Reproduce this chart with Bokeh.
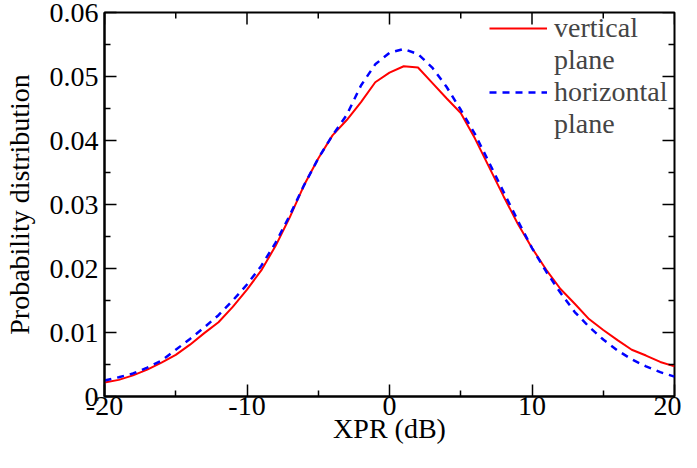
import math
from bokeh.plotting import figure
from bokeh.models import FixedTicker, Range1d, Legend, LegendItem, ColumnDataSource
from bokeh.embed import file_html
from bokeh.resources import INLINE

# ---- data ----
xpr_db = list(range(-20, 21))
vertical_plane = [0.0022, 0.0026, 0.0033, 0.0042, 0.0053, 0.0065, 0.0081, 0.0099,
                  0.0116, 0.0140, 0.0167, 0.0197, 0.0235, 0.0280, 0.0330, 0.0372,
                  0.0408, 0.0432, 0.0460, 0.0491, 0.0506, 0.0516, 0.0514, 0.0490,
                  0.0466, 0.0443, 0.0403, 0.0358, 0.0313, 0.0270, 0.0232, 0.0198,
                  0.0168, 0.0145, 0.0121, 0.0104, 0.0088, 0.0073, 0.0064, 0.0054,
                  0.0047]
horizontal_plane = [0.0025, 0.0030, 0.0036, 0.0045, 0.0056, 0.0073, 0.0090, 0.0108,
                    0.0127, 0.0150, 0.0175, 0.0204, 0.0240, 0.0283, 0.0330, 0.0372,
                    0.0408, 0.0440, 0.0486, 0.0519, 0.0537, 0.0543, 0.0535, 0.0514,
                    0.0484, 0.0448, 0.0410, 0.0365, 0.0320, 0.0275, 0.0232, 0.0195,
                    0.0162, 0.0132, 0.0109, 0.0089, 0.0072, 0.0058, 0.0047, 0.0038,
                    0.0031]
legend_lines = [["vertical", "plane"], ["horizontal", "plane"]]

x_min, x_max = -20, 20
y_min, y_max = 0.0, 0.06
x_ticks = [-20, -10, 0, 10, 20]
x_tick_labels = ["-20", "-10", "0", "10", "20"]
x_minor = [-15, -5, 5, 15]
y_ticks = [0.0, 0.01, 0.02, 0.03, 0.04, 0.05, 0.06]
y_tick_labels = ["0", "0.01", "0.02", "0.03", "0.04", "0.05", "0.06"]
y_minor = [0.005, 0.015, 0.025, 0.035, 0.045, 0.055]

FONT = "Liberation Serif"
FS = "28px"
MAJOR = 12
MINOR = 6

p = figure(width=681, height=452, output_backend="svg", toolbar_location=None,
           x_range=Range1d(x_min, x_max), y_range=Range1d(y_min, y_max),
           min_border_left=100, min_border_right=7, min_border_top=12,
           min_border_bottom=56, x_axis_label="XPR (dB)",
           y_axis_label="Probability distribution")
p.background_fill_color = "white"
p.border_fill_color = "white"
p.outline_line_color = "black"
p.outline_line_width = 2
p.xgrid.visible = False
p.ygrid.visible = False

src = ColumnDataSource(dict(x=xpr_db, v=vertical_plane, h=horizontal_plane))
r_v = p.line("x", "v", source=src, line_color="#ff0000", line_width=2)
r_h = p.line("x", "h", source=src, line_color="#0000ff", line_width=2.5,
             line_dash="7 6")


def style(ax):
    ax.axis_line_width = 2
    ax.axis_line_color = "black"
    ax.major_tick_in = MAJOR
    ax.major_tick_out = 0
    ax.minor_tick_in = MINOR
    ax.minor_tick_out = 0
    ax.major_tick_line_width = 1.5
    ax.minor_tick_line_width = 1.5
    ax.major_label_text_font = FONT
    ax.major_label_text_font_size = FS
    ax.major_label_text_color = "black"
    ax.axis_label_text_font = FONT
    ax.axis_label_text_font_size = FS
    ax.axis_label_text_font_style = "normal"
    ax.axis_label_text_color = "black"


xa = p.xaxis[0]
xa.ticker = FixedTicker(ticks=x_ticks, minor_ticks=x_minor)
xa.major_label_overrides = dict(zip(x_ticks, x_tick_labels))
xa.major_label_standoff = 0
xa.axis_label_standoff = -5
style(xa)

ya = p.yaxis[0]
ya.ticker = FixedTicker(ticks=y_ticks, minor_ticks=y_minor)
ya.major_label_overrides = dict(zip(y_ticks, y_tick_labels))
ya.major_label_standoff = 6
ya.axis_label_standoff = 12
style(ya)

# inward ticks on the top and right edges of the frame (mirroring the axes)
tick_kw = dict(line_color="black", line_width=1.5, length_units="screen")
p.ray(x=x_ticks, y=[y_max] * len(x_ticks), length=MAJOR, angle=-math.pi / 2, **tick_kw)
p.ray(x=x_minor, y=[y_max] * len(x_minor), length=MINOR, angle=-math.pi / 2, **tick_kw)
p.ray(x=[x_max] * len(y_ticks), y=y_ticks, length=MAJOR, angle=math.pi, **tick_kw)
p.ray(x=[x_max] * len(y_minor), y=y_minor, length=MINOR, angle=math.pi, **tick_kw)

items = []
for rend, lines in zip([r_v, r_h], legend_lines):
    items.append(LegendItem(label=lines[0], renderers=[rend]))
    for extra in lines[1:]:
        items.append(LegendItem(label=extra, renderers=[]))

legend = Legend(items=items, location=(385, 256), padding=0, margin=0, spacing=-4,
                glyph_width=58, glyph_height=20, label_standoff=7,
                label_text_font=FONT, label_text_font_size=FS,
                border_line_color=None, background_fill_alpha=0)
p.add_layout(legend, "center")

open("out.html", "w").write(file_html(p, INLINE))
